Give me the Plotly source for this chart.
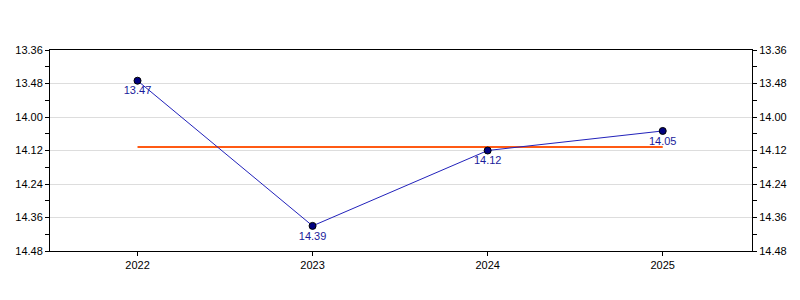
import plotly.graph_objects as go

years = [2022, 2023, 2024, 2025]
times = ["13.47", "14.39", "14.12", "14.05"]  # minutes.seconds
tick_labels = ["13.36", "13.48", "14.00", "14.12", "14.24", "14.36", "14.48"]


def to_sec(s):
    m, sec = s.split(".")
    return int(m) * 60 + int(sec)


secs = [to_sec(t) for t in times]
tick_vals = [to_sec(t) for t in tick_labels]
mean_val = sum(secs) / len(secs)

fig = go.Figure()
fig.add_trace(go.Scatter(
    x=[years[0], years[-1]], y=[mean_val, mean_val], mode="lines",
    line=dict(color="#ff5a14", width=2), hoverinfo="skip", showlegend=False))
fig.add_trace(go.Scatter(
    x=years, y=secs, mode="lines+markers+text", text=times,
    textposition="bottom center",
    textfont=dict(family="Liberation Sans, Arial", size=11, color="#1a1a9a"),
    line=dict(color="#2222bb", width=1),
    marker=dict(color="#000080", size=7, line=dict(color="#000000", width=1)),
    showlegend=False))
# invisible trace to activate right axis
fig.add_trace(go.Scatter(x=years, y=secs, yaxis="y2", mode="markers",
                         marker=dict(opacity=0), hoverinfo="skip", showlegend=False))

axis_font = dict(family="Liberation Sans, Arial", size=11, color="#000000")
yax = dict(range=[tick_vals[-1], tick_vals[0]], tickvals=tick_vals, ticktext=tick_labels,
           ticks="outside", ticklen=4, tickcolor="#000", showline=True, linecolor="#000",
           linewidth=1, showgrid=True, gridcolor="#dddddd", zeroline=False,
           tickfont=axis_font,
           minor=dict(dtick=6, tick0=tick_vals[0], ticks="outside", ticklen=4,
                      tickcolor="#000", showgrid=False))
fig.update_layout(
    width=800, height=300,
    margin=dict(l=50, r=48, t=50, b=49),
    paper_bgcolor="white", plot_bgcolor="white",
    xaxis=dict(range=[2021.5, 2025.51], tickvals=years, ticktext=[str(y) for y in years],
               ticks="outside", ticklen=4, tickcolor="#000", showline=True,
               linecolor="#000", mirror=True, showgrid=False, zeroline=False,
               tickfont=axis_font),
    yaxis=dict(**yax),
    yaxis2=dict(**yax, overlaying="y", side="right"),
)
fig.update_yaxes(showgrid=False, selector=dict(overlaying="y"))
fig.layout.yaxis2.showgrid = False
fig.write_html("out.html")
